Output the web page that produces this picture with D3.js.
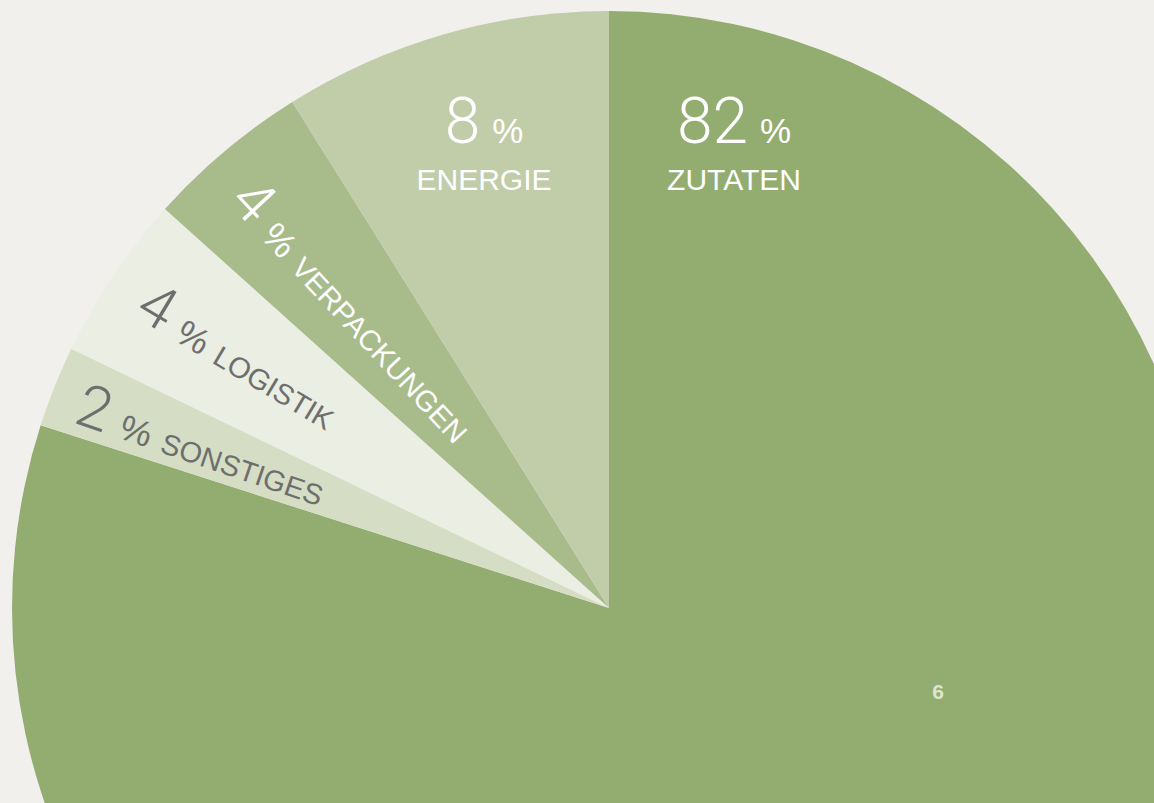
<!DOCTYPE html>
<html>
<head>
<meta charset="utf-8">
<script src="https://cdn.jsdelivr.net/npm/d3@7"></script>
<style>
    html, body { margin: 0; padding: 0; background: #f2f0ed; overflow: hidden; }
</style>
</head>
<body>
<div id="chart"></div>
<script>
// slices in drawing order, clockwise from 12 o'clock
const categories = ["ZUTATEN", "SONSTIGES", "LOGISTIK", "VERPACKUNGEN", "ENERGIE"];
// share of the circle as drawn (angles, in %)
const shares = [79.95, 2.2, 4.5, 4.45, 8.9];
// percentages as printed in the labels
const printed = [82, 2, 4, 4, 8];
const pageNumber = "6";

const colors = ["#93ad71", "#d5dec4", "#eaeee3", "#a8bb8b", "#c1cca9"];
const textColors = ["#ffffff", "#6e6e6e", "#6e6e6e", "#ffffff", "#ffffff"];

const width = 1154;
const height = 803;
const cx = 609;
const cy = 608;
const radius = 597;

const svg = d3.select("#chart")
    .append("svg")
    .attr("width", width)
    .attr("height", height)
    .attr("viewBox", [0, 0, width, height]);

// paper-like background
const defs = svg.append("defs");
const grain = defs.append("filter").attr("id", "grain");
grain.append("feTurbulence")
    .attr("type", "fractalNoise")
    .attr("baseFrequency", 0.8)
    .attr("numOctaves", 2)
    .attr("seed", 3);
grain.append("feColorMatrix")
    .attr("values", "0 0 0 0 0.6  0 0 0 0 0.58  0 0 0 0 0.55  0 0 0 0.05 0");
svg.append("rect").attr("width", width).attr("height", height).attr("fill", "#f3f1ee");
svg.append("rect").attr("width", width).attr("height", height).attr("filter", "url(#grain)");

const pie = d3.pie().sort(null).value(d => d)
    .startAngle(0).endAngle(2 * Math.PI);
const arcs = pie(shares);
const arc = d3.arc().innerRadius(0).outerRadius(radius);

const g = svg.append("g").attr("transform", `translate(${cx},${cy})`);

g.selectAll("path")
    .data(arcs)
    .join("path")
    .attr("d", arc)
    .attr("fill", (d, i) => colors[i]);

const numFont = "'Helvetica Neue', Roboto, 'Liberation Sans', sans-serif";
const txtFont = "'Helvetica Neue', 'Liberation Sans', Arial, sans-serif";
const mid = d => (d.startAngle + d.endAngle) / 2;

// upright labels: energie at its mid angle, zutaten mirrored across 12 o'clock
const labelAngle = mid(arcs[4]);
const labelR = 453;
const upright = [
    { i: 4, a: labelAngle },
    { i: 0, a: 2 * Math.PI - labelAngle }
];
upright.forEach(({ i, a }) => {
    const x = labelR * Math.sin(a);
    const y = -labelR * Math.cos(a);
    const t = g.append("text")
        .attr("x", x)
        .attr("y", y - 30)
        .attr("text-anchor", "middle")
        .attr("fill", textColors[i]);
    t.append("tspan")
        .style("font-family", numFont)
        .style("font-weight", 300)
        .style("font-size", "64px")
        .text(printed[i]);
    t.append("tspan")
        .attr("dx", 12)
        .style("font-family", txtFont)
        .style("font-size", "35px")
        .text("%");
    g.append("text")
        .attr("x", x)
        .attr("y", y + 17)
        .attr("text-anchor", "middle")
        .attr("fill", textColors[i])
        .style("font-family", txtFont)
        .style("font-size", "30px")
        .text(categories[i]);
});

// rotated labels, running inward towards the centre
const rotated = [
    { i: 3, r: 557, dy: 2 },
    { i: 2, r: 559, dy: -7 },
    { i: 1, r: 568, dy: -3 }
];
rotated.forEach(({ i, r, dy }) => {
    const a = mid(arcs[i]);
    const deg = Math.atan2(Math.cos(a), -Math.sin(a)) * 180 / Math.PI - 3;
    const t = g.append("text")
        .attr("transform", `rotate(${deg})`)
        .attr("x", -r)
        .attr("y", dy)
        .attr("fill", textColors[i]);
    t.append("tspan")
        .style("font-family", numFont)
        .style("font-weight", 300)
        .style("font-size", "60px")
        .text(printed[i]);
    t.append("tspan")
        .attr("dx", 14)
        .style("font-family", txtFont)
        .style("font-size", "36px")
        .text("%");
    t.append("tspan")
        .attr("dx", 12)
        .style("font-family", txtFont)
        .style("font-size", "29px")
        .text(categories[i]);
});

// page number
svg.append("text")
    .attr("x", 938)
    .attr("y", 699)
    .attr("text-anchor", "middle")
    .attr("fill", "#dde6d0")
    .style("font-family", txtFont)
    .style("font-weight", "bold")
    .style("font-size", "21px")
    .text(pageNumber);
</script>
</body>
</html>
